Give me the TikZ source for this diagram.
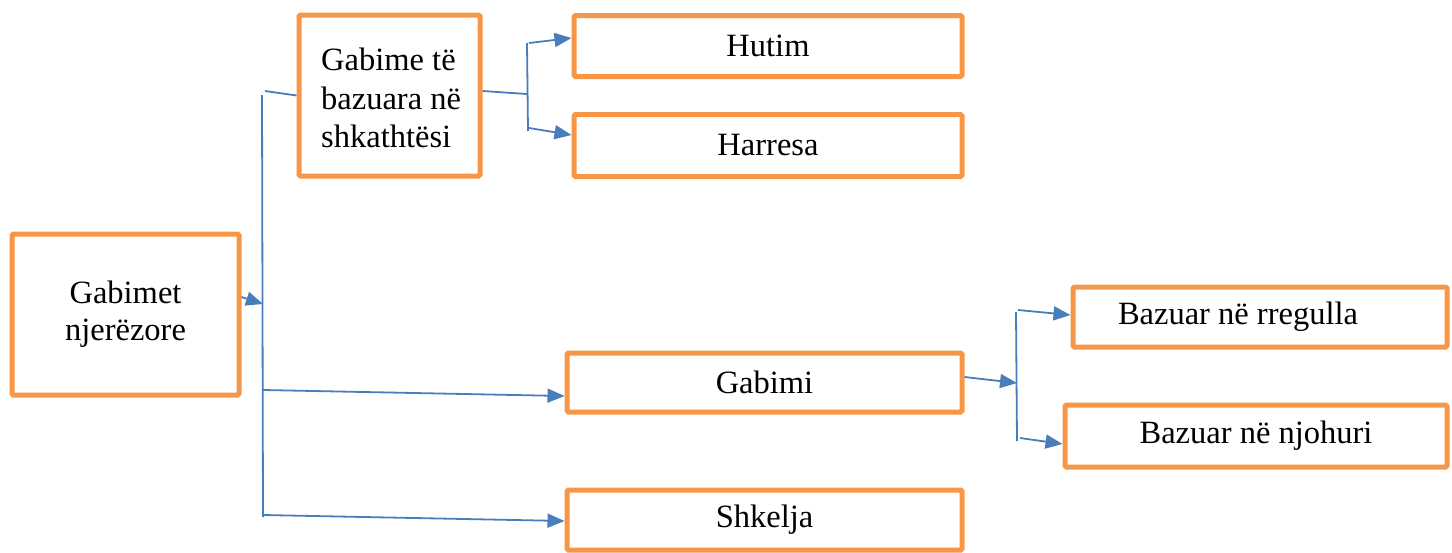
\documentclass[tikz,border=0pt]{standalone}
\usepackage{fontspec}
\setmainfont{Liberation Serif}
\usetikzlibrary{arrows.meta}
\definecolor{boxorange}{HTML}{F79646}
\definecolor{linkblue}{HTML}{4A7EBB}
\begin{document}
\begin{tikzpicture}[x=1pt,y=-1pt,
  box/.style={draw=boxorange,line width=5pt,rounded corners=1.5pt,inner sep=0pt,
    font=\fontsize{32.5}{37}\selectfont,align=center},
  txt/.style={inner sep=0pt,font=\fontsize{32.5}{37}\selectfont},
  link/.style={draw=linkblue,line width=1.8pt},
  arr/.style={link,-{Triangle[length=17pt,width=14pt]}}]
\useasboundingbox (0,0) rectangle (1452,552);
% boxes
\node[box,minimum width=227pt,minimum height=161pt] (gn) at (125.5,314.5) {Gabimet\\njerëzore};
\node[box,minimum width=181pt,minimum height=161pt] (gb) at (389.5,95.5) {};
\node[txt,align=left,anchor=west,font=\fontsize{32.5}{38.5}\selectfont] (gbt) at (321,98) {Gabime të\\bazuara në\\shkathtësi};
\node[box,minimum width=388pt,minimum height=61pt] (hu) at (768,46) {Hutim};
\node[box,minimum width=388pt,minimum height=62pt] (ha) at (768,145.5) {Harresa};
\node[box,minimum width=395pt,minimum height=59pt] (ga) at (764.5,382.5) {Gabimi};
\node[box,minimum width=395pt,minimum height=60pt] (sh) at (764.5,520) {Shkelja};
\node[box,minimum width=374pt,minimum height=60pt] (br) at (1260,317) {\hspace*{-44pt}Bazuar në rregulla};
\node[box,minimum width=382pt,minimum height=62pt] (bn) at (1256,436) {Bazuar në njohuri};
% junction coordinates
\coordinate (v1t) at (262,95);
\coordinate (v1b) at (263,517);
\coordinate (v1m) at (263,304);
\coordinate (v1g) at (263,390);
\coordinate (v1s) at (263,515);
\coordinate (h1) at (265,91);
\coordinate (v2t) at (527,43);
\coordinate (v2b) at (528,131);
\coordinate (v2m) at (527,94);
\coordinate (v2u) at (529,43);
\coordinate (v2l) at (529,128);
\coordinate (v3t) at (1016,312);
\coordinate (v3b) at (1017,441);
\coordinate (v3m) at (1017,383);
\coordinate (v3u) at (1018,310);
\coordinate (v3l) at (1020,438);
% connectors
\draw[link] (v1t) -- (v1b);
\draw[link] (h1) -- (gb.west);
\draw[arr] (gn.east |- 0,297) -- (v1m);
\draw[arr] (v1g) -- (ga.west |- 0,396);
\draw[arr] (v1s) -- (sh.west |- 0,521);
\draw[link] (gb.east |- 0,91) -- (v2m);
\draw[link] (v2t) -- (v2b);
\draw[arr] (v2u) -- (hu.west |- 0,38);
\draw[arr] (v2l) -- (ha.west |- 0,135);
\draw[arr] (ga.east |- 0,377) -- (v3m);
\draw[link] (v3t) -- (v3b);
\draw[arr] (v3u) -- (br.west |- 0,315);
\draw[arr] (v3l) -- (bn.west |- 0,444);
\end{tikzpicture}
\end{document}
